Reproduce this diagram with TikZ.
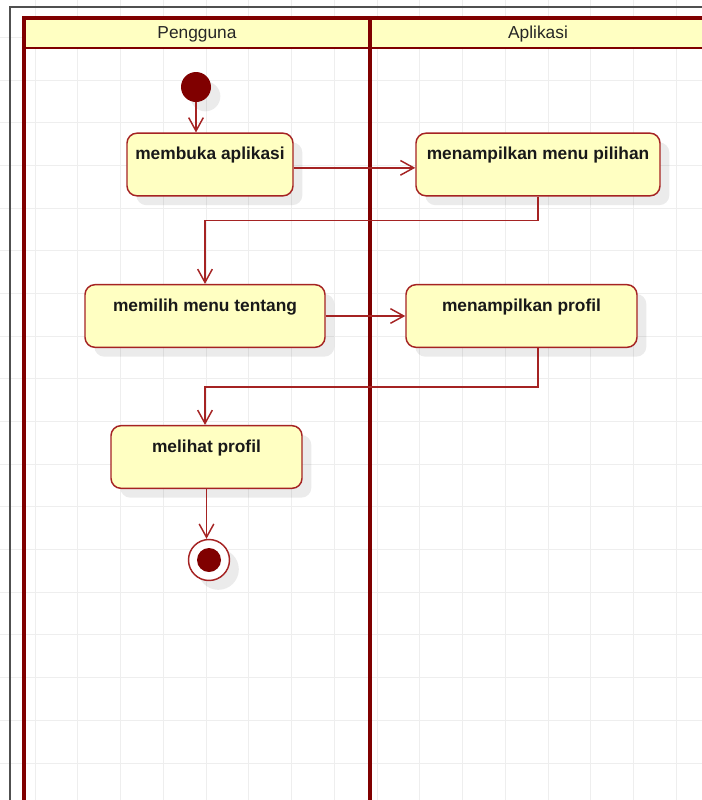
\documentclass[tikz,border=0pt]{standalone}
\usepackage{fontspec}
\setsansfont{Liberation Sans}
\usepackage{tikz}
\usetikzlibrary{
	positioning,
	arrows.meta,
	shadows
}
\definecolor{lanered}{RGB}{128,0,0}
\definecolor{actred}{RGB}{165,35,35}
\definecolor{actfill}{RGB}{255,255,194}
\definecolor{gridgray}{RGB}{238,238,238}
\definecolor{framegray}{RGB}{80,80,80}
\tikzset{
	shade/.style={drop shadow={shadow xshift=7pt, shadow yshift=-7pt, fill=black, opacity=0.08}},
	actbox/.style={draw=actred, fill=actfill, rounded corners=7.5pt, line width=1.1pt,
		font=\sffamily\bfseries\fontsize{13}{15}\selectfont, text=black!90,
		text height=14pt, text depth=21pt, inner ysep=6pt, shade},
	flow/.style={draw=actred, line width=1.1pt, -{Straight Barb[length=10pt,width=11pt]}},
	lanetitle/.style={font=\sffamily\fontsize{13}{15}\selectfont, text=black!85},
	lane/.style={draw=lanered, line width=2.7pt}
}

\begin{document}
\begin{tikzpicture}[x=0.75pt,y=-0.75pt]
		\clip (0,0) rectangle (702,800);
		\fill[white] (0,0) rectangle (702,800);
		\foreach \i in {0,...,17}
			\draw[gridgray, line width=0.75pt] (-7.75+42.75*\i,0) -- (-7.75+42.75*\i,800);
		\foreach \j in {0,...,19}
			\draw[gridgray, line width=0.75pt] (0,-5.38+42.69*\j) -- (702,-5.38+42.69*\j);
		\draw[framegray, line width=1pt] (10,805) |- (705,7);

		\fill[actfill] (24,18) rectangle (706,48);
		\draw[lane] (24,805) |- (706,18);
		\draw[lane] (370,18) -- (370,805);
		\draw[draw=lanered, line width=2.2pt] (24,48) -- (706,48);
		\node[lanetitle] (pengguna) at (197,34) {Pengguna};
		\node[lanetitle] (aplikasi) at (538,34) {Aplikasi};

		\node[circle, fill=lanered, minimum size=22.5pt, inner sep=0pt, shade] (init) at (196,87) {};
		\node[actbox, minimum width=124.5pt] (mb) at (210,164.5) {membuka aplikasi};
		\node[actbox, minimum width=183pt] (mmp) at (538,164.5) {menampilkan menu pilihan};
		\node[actbox, minimum width=180pt] (mmt) at (205,316) {memilih menu tentang};
		\node[actbox, minimum width=173.25pt] (mp) at (521.5,316) {menampilkan profil};
		\node[actbox, minimum width=143.25pt] (mlh) at (206.5,457) {melihat profil};
		\node[circle, draw=actred, fill=white, line width=1.1pt, minimum size=30.75pt, inner sep=0pt, shade,
			path picture={\fill[lanered] (path picture bounding box.center) circle (9pt);}] (final) at (209,560) {};

		\draw[flow] (init) -- (init |- mb.north);
		\draw[flow] ([yshift=-2.5pt]mb.east) -- ([yshift=-2.5pt]mb.east -| mmp.west);
		\draw[flow] (mmp.south) -- ++(0,24) -| (mmt.north);
		\draw[flow] (mmt.east) -- (mmt.east -| mp.west);
		\draw[flow] (mp.south -| mmp.south) -- ++(0,39) -| (mmt.north |- mlh.north);
		\draw[flow] (mlh.south) -- (mlh.south |- final.north);
	\end{tikzpicture}
\end{document}
